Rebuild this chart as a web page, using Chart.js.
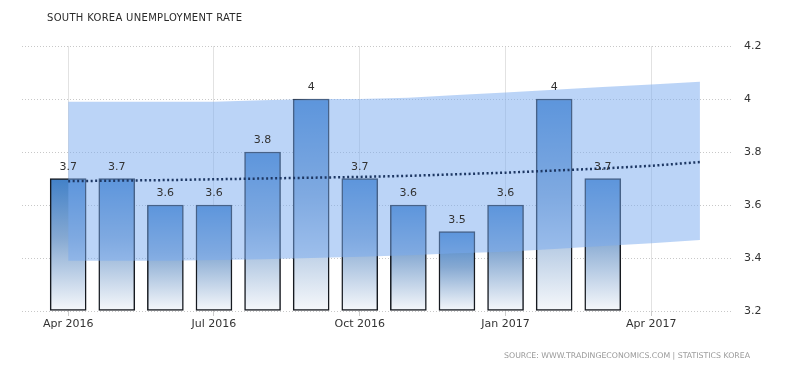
<!DOCTYPE html>
<html>
<head>
<meta charset="utf-8">
<script src="https://cdn.jsdelivr.net/npm/chart.js@4.4.1/dist/chart.umd.min.js"></script>
<style>
  html, body { margin: 0; padding: 0; background: #fff; }
  #wrap { position: relative; width: 800px; height: 373px; }
  #title { position: absolute; left: 47px; top: 12px; font: 10px "DejaVu Sans", sans-serif; letter-spacing: 0.3px; color: #2a2a2a; }
  #source { position: absolute; right: 50px; top: 351px; font: 7.8px "DejaVu Sans", sans-serif; color: #999; }
</style>
</head>
<body>
<div id="wrap">
  <canvas id="chart" width="800" height="373"></canvas>
  <div id="title">SOUTH KOREA UNEMPLOYMENT RATE</div>
  <div id="source">SOURCE: WWW.TRADINGECONOMICS.COM | STATISTICS KOREA</div>
</div>
<script>
// months counted from Apr 2016 (0) to May 2017 (13)
const months = ["Apr 2016","May 2016","Jun 2016","Jul 2016","Aug 2016","Sep 2016","Oct 2016",
                "Nov 2016","Dec 2016","Jan 2017","Feb 2017","Mar 2017","Apr 2017","May 2017"];
const rates = [3.7, 3.7, 3.6, 3.6, 3.8, 4, 3.7, 3.6, 3.5, 3.6, 4, 3.7];
const bandHigh = [3.99, 3.99, 3.99, 3.99, 3.995, 4.0, 4.0, 4.005, 4.015, 4.025, 4.035, 4.045, 4.055, 4.065];
const bandLow  = [3.39, 3.39, 3.39, 3.392, 3.395, 3.40, 3.405, 3.41, 3.418, 3.424, 3.434, 3.445, 3.456, 3.468];
const trend    = [3.69, 3.692, 3.694, 3.697, 3.70, 3.703, 3.706, 3.71, 3.716, 3.722, 3.73, 3.738, 3.748, 3.762];
const xTicks = [0, 3, 6, 9, 12];
const yTicks = [3.2, 3.4, 3.6, 3.8, 4, 4.2];

const pts = arr => arr.map((v, i) => ({x: i, y: v}));

// gradient per bar, blue at top fading to white at the base
function barFill(ctx) {
  const chart = ctx.chart;
  const area = chart.chartArea;
  if (!area || !ctx.raw) return "#4a86c8";
  const top = chart.scales.y.getPixelForValue(ctx.raw.y);
  const g = chart.ctx.createLinearGradient(0, top, 0, area.bottom);
  g.addColorStop(0, "#4281c8");
  g.addColorStop(0.45, "#86a9d2");
  g.addColorStop(1, "#f6f8fb");
  return g;
}

const barLabels = {
  id: "barLabels",
  afterDatasetsDraw(chart) {
    const meta = chart.getDatasetMeta(0);
    const c = chart.ctx;
    c.save();
    c.font = "11px 'DejaVu Sans', sans-serif";
    c.fillStyle = "#333";
    c.textAlign = "center";
    c.textBaseline = "bottom";
    meta.data.forEach((bar, i) => {
      c.fillText(String(rates[i]), bar.x, bar.y - 6);
    });
    c.restore();
  }
};

new Chart(document.getElementById("chart"), {
  type: "bar",
  data: {
    datasets: [
      {
        data: pts(rates),
        base: yTicks[0],
        backgroundColor: barFill,
        borderColor: "#161a20",
        borderWidth: 1.5,
        borderSkipped: false,
        barThickness: 36,
        clip: 4,
        order: 3
      },
      {
        type: "line",
        data: pts(bandHigh),
        borderWidth: 0,
        pointRadius: 0,
        backgroundColor: "rgba(120,170,240,0.5)",
        fill: "+1",
        order: 1
      },
      {
        type: "line",
        data: pts(bandLow),
        borderWidth: 0,
        pointRadius: 0,
        fill: false,
        order: 2
      },
      {
        type: "line",
        data: pts(trend),
        borderColor: "#1d3763",
        borderWidth: 2.5,
        borderDash: [2, 2.5],
        pointRadius: 0,
        fill: false,
        order: 0
      }
    ]
  },
  options: {
    responsive: false,
    animation: false,
    layout: { padding: { left: 22, top: 46, right: 0, bottom: 0 } },
    plugins: { legend: { display: false }, tooltip: { enabled: false } },
    scales: {
      x: {
        type: "linear",
        min: -0.95,
        max: 13.68,
        offset: false,
        afterFit: s => { s.height = 62; },
        afterBuildTicks: s => { s.ticks = xTicks.map(v => ({value: v})); },
        grid: { offset: false, color: "#e2e2e2", tickLength: 5, tickColor: "#ccc" },
        border: { display: false },
        ticks: {
          padding: 2,
          color: "#333",
          font: { family: "DejaVu Sans", size: 11 },
          maxRotation: 0,
          callback: v => months[v] || ""
        }
      },
      y: {
        position: "right",
        min: 3.2,
        max: 4.2,
        afterFit: s => { s.width = 67; },
        afterBuildTicks: s => { s.ticks = yTicks.map(v => ({value: v})); },
        grid: { color: "#c8c8c8", drawTicks: false },
        border: { display: false, dash: [1, 2] },
        ticks: {
          padding: 11,
          color: "#333",
          font: { family: "DejaVu Sans", size: 11 },
          callback: v => String(+v.toFixed(1))
        }
      }
    }
  },
  plugins: [barLabels]
});
</script>
</body>
</html>
